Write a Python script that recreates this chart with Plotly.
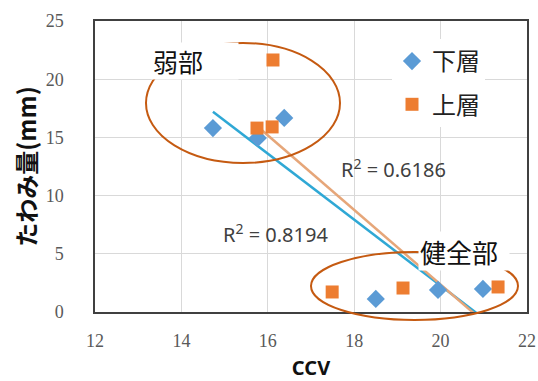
import numpy as np
import plotly.graph_objects as go

# CCV vs. deflection for lower and upper layers
lower_ccv = [14.73, 15.77, 16.38, 18.50, 19.94, 20.98]
lower_defl = [15.8, 14.95, 16.67, 1.12, 1.90, 1.98]
upper_ccv = [15.75, 16.10, 16.12, 17.49, 19.13, 21.33]
upper_defl = [15.8, 15.9, 21.65, 1.72, 2.06, 2.15]

series_names = ["下層", "上層"]
r2_labels = ["R<sup>2</sup> = 0.8194", "R<sup>2</sup> = 0.6186"]
x_ticks = [12, 14, 16, 18, 20, 22]
y_ticks = [0, 5, 10, 15, 20, 25]

BLUE = "#5B9BD5"
ORANGE = "#ED7D31"
BLUE_TREND = "#2FA8D5"
ORANGE_TREND = "#E6A679"
RING = "#C55A11"
CJK = "Noto Sans CJK JP"

fig = go.Figure()


def trend(xs, ys):
    slope, icpt = np.polyfit(xs, ys, 1)
    tx = np.array([min(xs), max(xs)])
    return tx, slope * tx + icpt


# linear trendlines (drawn first so markers sit on top)
for xs, ys, col in [(lower_ccv, lower_defl, BLUE_TREND), (upper_ccv, upper_defl, ORANGE_TREND)]:
    tx, ty = trend(xs, ys)
    fig.add_trace(go.Scatter(x=tx, y=ty, mode="lines", line=dict(color=col, width=2.5),
                             showlegend=False, hoverinfo="skip"))

fig.add_trace(go.Scatter(x=lower_ccv, y=lower_defl, mode="markers", name=series_names[0],
                         legendgroup="a",
                         marker=dict(symbol="diamond", size=14, color=BLUE)))
fig.add_trace(go.Scatter(x=upper_ccv, y=upper_defl, mode="markers", name=series_names[1],
                         legendgroup="b",
                         marker=dict(symbol="square", size=13, color=ORANGE)))

# pixel helpers for the plot box: left 95, right 527, top 21, bottom 312
L, R, T, B = 95, 527, 21, 312


def px(x):
    return (x - L) / (R - L)


def py(y):
    return (B - y) / (B - T)


# ellipses marking the weak and sound zones
fig.add_shape(type="circle", xref="paper", yref="paper",
              x0=px(146), x1=px(340), y0=py(163), y1=py(43),
              line=dict(color=RING, width=2), layer="above")
fig.add_shape(type="circle", xref="paper", yref="paper",
              x0=px(311), x1=px(518), y0=py(320), y1=py(252),
              line=dict(color=RING, width=2), layer="above")

annotations = [
    dict(text="弱部", x=px(151), y=py(61), xanchor="left", width=84, height=34, align="left",
         font=dict(family=CJK, size=25, color="#111111"), bgcolor="white", borderpad=1),
    dict(text="健全部", x=px(418), y=py(251), xanchor="left", width=88, height=36, align="left",
         font=dict(family=CJK, size=26, color="#111111"), bgcolor="white", borderpad=1),
    dict(text=r2_labels[1], x=px(393), y=py(168), font=dict(family="Noto Sans", size=20, color="#404040")),
    dict(text=r2_labels[0], x=px(275), y=py(233), font=dict(family="Noto Sans", size=20, color="#404040")),
]
for a in annotations:
    a.setdefault("xanchor", "center")
    a.update(xref="paper", yref="paper", showarrow=False, yanchor="middle")

fig.update_layout(
    width=538, height=381,
    margin=dict(l=L, r=538 - R, t=T, b=381 - B),
    paper_bgcolor="white", plot_bgcolor="white",
    annotations=annotations,
    legend=dict(x=px(392), y=py(39), xanchor="left", yanchor="top",
                font=dict(family=CJK, size=24, color="#222222"),
                bgcolor="white", tracegroupgap=9, itemwidth=30, traceorder="grouped"),
)

tick_font = dict(family="Liberation Sans Narrow", size=18, color="#595959")
fig.update_xaxes(range=[12, 22], tickvals=x_ticks, ticktext=[str(v) for v in x_ticks],
                 showgrid=True, gridcolor="#D9D9D9", gridwidth=1,
                 showline=True, mirror=True, linecolor="#404040", linewidth=1.5,
                 ticks="outside", ticklen=12, tickcolor="rgba(0,0,0,0)",
                 tickfont=tick_font, zeroline=False, automargin=False,
                 title=dict(text="<b>CCV</b>", font=dict(family="Noto Sans", size=20, color="#111111"),
                            standoff=18))
fig.update_yaxes(range=[0, 25], tickvals=y_ticks, ticktext=[str(v) for v in y_ticks],
                 showgrid=True, gridcolor="#D9D9D9", gridwidth=1,
                 showline=True, mirror=True, linecolor="#404040", linewidth=1.5,
                 ticks="outside", ticklen=26, tickcolor="rgba(0,0,0,0)",
                 tickfont=tick_font, zeroline=False, automargin=False,
                 title=dict(text="<b>たわみ量(mm)</b>", font=dict(family=CJK, size=24, color="#111111"),
                            standoff=2))

fig.write_html("out.html")
